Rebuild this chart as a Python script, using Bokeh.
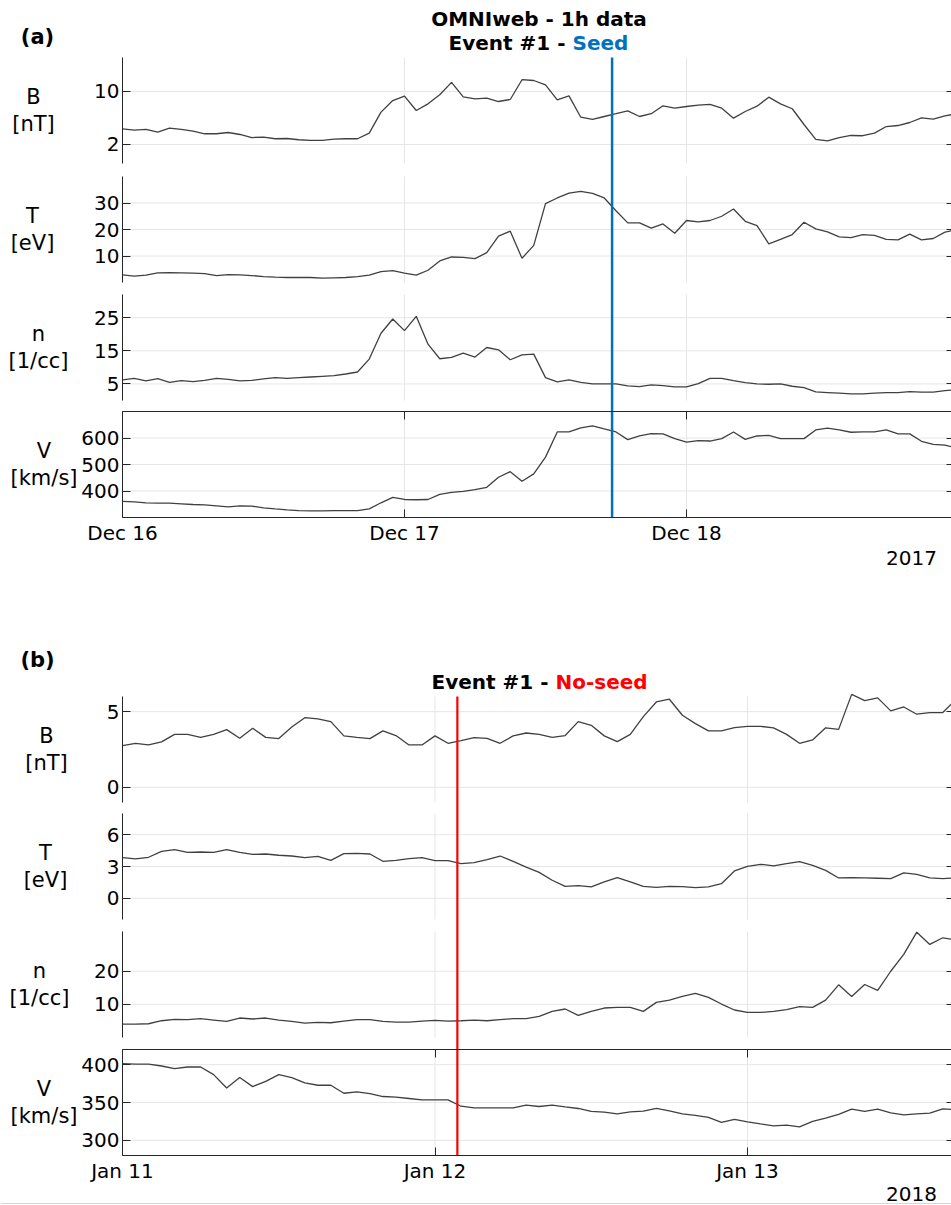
import math
import pandas as pd
from bokeh.plotting import figure
from bokeh.models import (Range1d, FixedTicker, Label, LinearAxis, LogAxis, DatetimeAxis,
                          BasicTickFormatter, DatetimeTickFormatter, LinearScale, LogScale,
                          Span)
from bokeh.embed import file_html
from bokeh.resources import INLINE

# ---------------- panel (a) data : OMNIweb 1h, Dec 16-18 2017 ----------------
start_a = "2017-12-16 00:00"
B_a = [3.22, 3.09, 3.16, 2.91, 3.28, 3.16, 3.00, 2.77, 2.77, 2.88, 2.71, 2.47, 2.50, 2.38,
       2.40, 2.31, 2.26, 2.26, 2.35, 2.38, 2.38, 2.82, 5.34, 7.60, 8.67, 5.62, 6.88, 9.06,
       13.2, 8.51, 8.00, 8.17, 7.38, 7.85, 14.3, 13.97, 12.25, 7.77, 8.77, 4.58, 4.28, 4.68,
       5.09, 5.56, 4.68, 5.09, 6.48, 6.03, 6.34, 6.61, 6.75, 6.03, 4.45, 5.45, 6.40, 8.42,
       6.88, 5.92, 3.67, 2.33, 2.23, 2.47, 2.63, 2.61, 2.82, 3.45, 3.56, 3.90, 4.50, 4.32,
       4.78, 5.09]
T_a = [2.88, 2.38, 2.75, 3.63, 3.75, 3.63, 3.50, 3.38, 2.63, 3.00, 2.88, 2.63, 2.25, 2.00,
       1.88, 1.88, 1.88, 1.63, 1.75, 1.88, 2.25, 2.75, 4.13, 4.50, 3.50, 2.75, 4.63, 8.13,
       9.63, 9.50, 9.00, 11.25, 17.5, 19.38, 9.13, 14.0, 29.75, 31.9, 33.75, 34.4, 33.6, 31.9,
       27.1, 22.5, 22.5, 20.5, 22.1, 18.6, 23.4, 22.9, 23.4, 25.0, 27.75, 23.1, 21.5, 14.6,
       16.25, 18.1, 22.75, 20.25, 19.1, 17.25, 16.9, 18.1, 17.75, 16.25, 16.1, 18.25, 16.1,
       16.6, 19.0, 20.0]
n_a = [6.2, 6.7, 5.9, 6.6, 5.5, 6.0, 5.7, 6.1, 6.7, 6.4, 5.9, 6.1, 6.5, 6.9, 6.7, 6.9, 7.1,
       7.3, 7.5, 8.0, 8.6, 12.5, 20.3, 24.6, 21.1, 25.4, 17.0, 12.6, 13.0, 14.3, 13.1, 16.0,
       15.3, 12.3, 13.8, 14.0, 6.9, 5.6, 6.2, 5.5, 5.0, 5.0, 5.0, 4.4, 4.2, 4.7, 4.5, 4.1, 4.1,
       5.1, 6.7, 6.7, 6.0, 5.4, 5.0, 4.9, 5.0, 4.3, 3.9, 2.6, 2.4, 2.2, 2.0, 2.0, 2.2, 2.4,
       2.4, 2.7, 2.5, 2.5, 3.0, 3.3]
V_a = [360.5, 359.3, 355.5, 354.2, 354.0, 351.7, 349.0, 348.0, 344.0, 340.0, 344.0, 343.0,
       336.5, 332.7, 329.0, 326.0, 325.0, 325.0, 326.0, 326.0, 326.0, 332.7, 355.5, 375.7,
       368.0, 367.0, 368.0, 387.0, 394.7, 398.7, 405.0, 413.8, 451.8, 473.0, 436.6, 464.5,
       527.8, 622.8, 622.8, 638.0, 645.6, 634.0, 622.8, 594.0, 607.6, 616.7, 615.4, 597.7,
       584.8, 590.0, 588.6, 597.7, 622.8, 595.0, 607.6, 610.0, 597.7, 597.7, 597.7, 630.4,
       636.9, 630.4, 621.7, 622.8, 622.8, 630.4, 615.4, 615.4, 587.5, 576.0, 573.4, 562.0]
day_ticks_a = ["2017-12-16", "2017-12-17", "2017-12-18"]
day_labels_a = ["Dec 16", "Dec 17", "Dec 18"]
event_a = "2017-12-17 17:40"
year_a = "2017"
B_ticks_a = [2, 10]
T_ticks_a = [10, 20, 30]
n_ticks_a = [5, 15, 25]
V_ticks_a = [400, 500, 600]
B_lim_a = (1.123, 28.08)
T_lim_a = (0, 40)
n_lim_a = (0, 32)
V_lim_a = (300, 700)

# ---------------- panel (b) data : Jan 11-13 2018 ----------------
start_b = "2018-01-11 00:00"
B_b = [2.76, 2.91, 2.80, 3.00, 3.50, 3.50, 3.30, 3.50, 3.81, 3.24, 3.90, 3.30, 3.22, 3.99,
       4.60, 4.52, 4.34, 3.40, 3.30, 3.22, 3.73, 3.42, 2.80, 2.80, 3.40, 2.91, 3.09, 3.28,
       3.24, 2.91, 3.40, 3.59, 3.50, 3.30, 3.42, 4.34, 4.10, 3.40, 3.02, 3.50, 4.67, 5.64,
       5.82, 4.76, 4.21, 3.73, 3.73, 3.95, 4.03, 4.03, 3.93, 3.50, 2.91, 3.13, 3.93, 3.83,
       6.14, 5.73, 5.91, 5.05, 5.31, 4.83, 4.94, 4.94, 5.80]
T_b = [3.84, 3.71, 3.87, 4.43, 4.59, 4.34, 4.37, 4.34, 4.59, 4.34, 4.15, 4.18, 4.06, 3.99,
       3.84, 3.96, 3.58, 4.21, 4.24, 4.18, 3.49, 3.58, 3.74, 3.84, 3.55, 3.55, 3.27, 3.36,
       3.65, 3.99, 3.49, 2.95, 2.45, 1.70, 1.13, 1.19, 1.07, 1.54, 1.95, 1.54, 1.13, 1.04,
       1.13, 1.10, 1.01, 1.07, 1.38, 2.58, 3.02, 3.21, 3.05, 3.27, 3.46, 3.11, 2.64, 1.92,
       1.95, 1.92, 1.89, 1.86, 2.39, 2.26, 1.92, 1.86, 1.92]
n_b = [4.06, 4.06, 4.15, 5.06, 5.47, 5.37, 5.67, 5.27, 4.85, 5.88, 5.58, 5.88, 5.27, 4.85,
       4.36, 4.55, 4.45, 4.97, 5.37, 5.37, 4.85, 4.67, 4.67, 4.97, 5.15, 4.97, 5.06, 5.27,
       5.06, 5.37, 5.67, 5.67, 6.37, 7.88, 8.60, 6.67, 7.88, 8.90, 9.10, 9.10, 7.88, 10.6,
       11.3, 12.4, 13.3, 12.1, 10.1, 8.3, 7.58, 7.58, 7.88, 8.39, 9.3, 9.1, 11.3, 15.9, 12.4,
       16.0, 14.2, 20.0, 25.1, 31.8, 28.1, 30.1, 29.5]
V_b = [401.3, 400.8, 400.8, 398.2, 394.7, 396.9, 396.9, 386.8, 369.2, 382.9, 371.0, 378.0,
       386.8, 382.9, 375.8, 372.8, 372.8, 362.2, 364.0, 361.8, 357.9, 357.0, 355.3, 353.5,
       353.5, 353.5, 345.1, 342.9, 342.9, 342.9, 342.9, 346.4, 344.7, 346.4, 344.2, 342.1,
       338.2, 337.2, 335.0, 337.6, 338.6, 342.1, 339.0, 335.0, 332.9, 330.3, 323.7, 327.6,
       324.5, 321.8, 319.2, 320.1, 317.9, 325.0, 329.3, 334.2, 341.2, 338.2, 341.2, 336.3,
       333.7, 335.0, 335.9, 341.6, 340.7]
day_ticks_b = ["2018-01-11", "2018-01-12", "2018-01-13"]
day_labels_b = ["Jan 11", "Jan 12", "Jan 13"]
event_b = "2018-01-12 01:43"
year_b = "2018"
B_ticks_b = [0, 5]
T_ticks_b = [0, 3, 6]
n_ticks_b = [10, 20]
V_ticks_b = [300, 350, 400]
B_lim_b = (-1, 6)
T_lim_b = (-2, 8)
n_lim_b = (0, 32)
V_lim_b = (280, 420)

ylabels = [("B", "[nT]"), ("T", "[eV]"), ("n", "[1/cc]"), ("V", "[km/s]")]

# ---------------- styling / layout ----------------
FONT = "DejaVu Sans"
AXC = "#262626"
GRIDC = "#e6e6e6"
LINEC = "#404040"
BLUE = "#0072BD"
RED = "#FF0000"
W, H = 951, 1205
X_LEFT = 122          # left edge of every axes box (px)
X_RIGHT = 954         # right edge of the axes boxes (just outside the picture)
DAY_MS = 86400000.0


def ms(s):
    return pd.Timestamp(s).value / 1e6


p = figure(width=W, height=H, x_axis_type=None, y_axis_type=None, output_backend="svg",
           toolbar_location=None, tools="", min_border=0, outline_line_color=None,
           background_fill_color="white", border_fill_color="white",
           x_range=Range1d(0, 1), y_range=Range1d(H, 0))

extra_x = {"px": Range1d(0, W)}
extra_xs = {"px": LinearScale()}
extra_y = {}
extra_ys = {}


def style_axis(ax, labels=True, standoff=3):
    ax.axis_line_color = AXC
    ax.axis_line_width = 1
    ax.major_tick_line_color = AXC
    ax.major_tick_in = 8
    ax.major_tick_out = 0
    ax.minor_tick_line_color = None
    ax.major_label_text_font = FONT
    ax.major_label_text_font_size = "20px"
    ax.major_label_text_color = "#000000" if labels else None
    ax.major_label_standoff = standoff


def add_text(px, py, text, size="21px", bold=False, color="#000000", align="center"):
    p.add_layout(Label(x=px, y=py, x_range_name="px", text=text, text_font=FONT,
                       text_font_size=size, text_font_style="bold" if bold else "normal",
                       text_color=color, text_align=align, text_baseline="middle"))


def panel(pid, xname, start, day_px, day_ticks, day_labels, series, lims, ticks, logs,
          tops, bottoms, event, ecolor, ewidth, lab_x):
    t0 = ms(start)
    kx = DAY_MS / day_px
    xr = Range1d(t0 - X_LEFT * kx, t0 + (W - X_LEFT) * kx)
    if xname == "default":
        p.x_range = xr
    else:
        extra_x[xname] = xr
        extra_xs[xname] = LinearScale()
    x_right = t0 + (X_RIGHT - X_LEFT) * kx
    day_ms = [ms(d) for d in day_ticks]
    times = pd.date_range(start, periods=len(series[0]), freq="h")

    for k in range(4):
        name = ylabels[k][0] + pid
        lo, hi = lims[k]
        top, bot = tops[k], bottoms[k]
        if logs[k]:
            l0, l1 = math.log10(lo), math.log10(hi)
            ky = (l1 - l0) / (bot - top)
            extra_y[name] = Range1d(10 ** (l0 - (H - bot) * ky), 10 ** (l0 + bot * ky))
            extra_ys[name] = LogScale()
            Ax = LogAxis
        else:
            ky = (hi - lo) / (bot - top)
            extra_y[name] = Range1d(lo - (H - bot) * ky, lo + bot * ky)
            extra_ys[name] = LinearScale()
            Ax = LinearAxis
        yt = ticks[k]
        # grid lines (from the tick arrays)
        p.segment(x0=day_ms, x1=day_ms, y0=[lo] * len(day_ms), y1=[hi] * len(day_ms),
                  x_range_name=xname, y_range_name=name, line_color=GRIDC, line_width=1,
                  level="underlay")
        p.segment(x0=[t0] * len(yt), x1=[x_right] * len(yt), y0=yt, y1=yt,
                  x_range_name=xname, y_range_name=name, line_color=GRIDC, line_width=1,
                  level="underlay")
        # data
        p.line(x=times, y=series[k], x_range_name=xname, y_range_name=name,
               line_color=LINEC, line_width=1.3)
        # axes
        left = Ax(x_range_name=xname, y_range_name=name, fixed_location=t0, bounds=(lo, hi),
                  ticker=FixedTicker(ticks=yt), formatter=BasicTickFormatter())
        style_axis(left)
        p.add_layout(left, "left")
        right = Ax(x_range_name=xname, y_range_name=name, fixed_location=x_right,
                   bounds=(lo, hi), ticker=FixedTicker(ticks=yt),
                   formatter=BasicTickFormatter())
        style_axis(right, labels=False)
        right.axis_line_color = None
        p.add_layout(right, "right")
        if k == 3:
            bottom = DatetimeAxis(x_range_name=xname, y_range_name=name, fixed_location=lo,
                                  bounds=(t0, x_right), ticker=FixedTicker(ticks=day_ms),
                                  formatter=DatetimeTickFormatter(days="%b %d"),
                                  major_label_overrides={t: l for t, l in
                                                         zip(day_ms, day_labels)})
            style_axis(bottom)
            p.add_layout(bottom, "below")
            topax = DatetimeAxis(x_range_name=xname, y_range_name=name, fixed_location=hi,
                                 bounds=(t0, x_right), ticker=FixedTicker(ticks=day_ms))
            style_axis(topax, labels=False)
            p.add_layout(topax, "above")
        mid = (top + bot) / 2
        add_text(lab_x[k], mid - 13.5, ylabels[k][0])
        add_text(lab_x[k], mid + 13.5, ylabels[k][1])

    # event marker spanning the four axes of the panel
    ev = ms(event)
    p.segment(x0=[ev], x1=[ev], y0=[tops[0]], y1=[bottoms[3]], x_range_name=xname,
              line_color=ecolor, line_width=ewidth)


panel("a", "default", start_a, 282.0, day_ticks_a, day_labels_a,
      [B_a, T_a, n_a, V_a], [B_lim_a, T_lim_a, n_lim_a, V_lim_a],
      [B_ticks_a, T_ticks_a, n_ticks_a, V_ticks_a], [True, False, False, False],
      [57, 176, 294, 411], [163, 282, 400, 517], event_a, BLUE, 2.5,
      [33, 32, 38, 43.5])
panel("b", "xb", start_b, 312.5, day_ticks_b, day_labels_b,
      [B_b, T_b, n_b, V_b], [B_lim_b, T_lim_b, n_lim_b, V_lim_b],
      [B_ticks_b, T_ticks_b, n_ticks_b, V_ticks_b], [False, False, False, False],
      [696, 813, 931, 1049], [802, 919, 1037, 1155], event_b, RED, 2.2,
      [46, 45, 39, 43.5])

p.extra_x_ranges = extra_x
p.extra_x_scales = extra_xs
p.extra_y_ranges = extra_y
p.extra_y_scales = extra_ys

# titles and panel letters
add_text(37, 36, "(a)", size="21px", bold=True)
add_text(538.5, 18.5, "OMNIweb - 1h data", size="20px", bold=True)
add_text(565, 42, "Event #1 -", size="20px", bold=True, align="right")
add_text(572, 42, "Seed", size="20px", bold=True, color=BLUE, align="left")
add_text(911, 557, year_a, size="20px")

add_text(37, 659, "(b)", size="21px", bold=True)
add_text(548, 681, "Event #1 -", size="20px", bold=True, align="right")
add_text(555, 681, "No-seed", size="20px", bold=True, color=RED, align="left")
add_text(911, 1193, year_b, size="20px")

p.add_layout(Span(location=1203, dimension="width", line_color="#d6d6d6", line_width=1))

open("out.html", "w").write(file_html(p, INLINE))
